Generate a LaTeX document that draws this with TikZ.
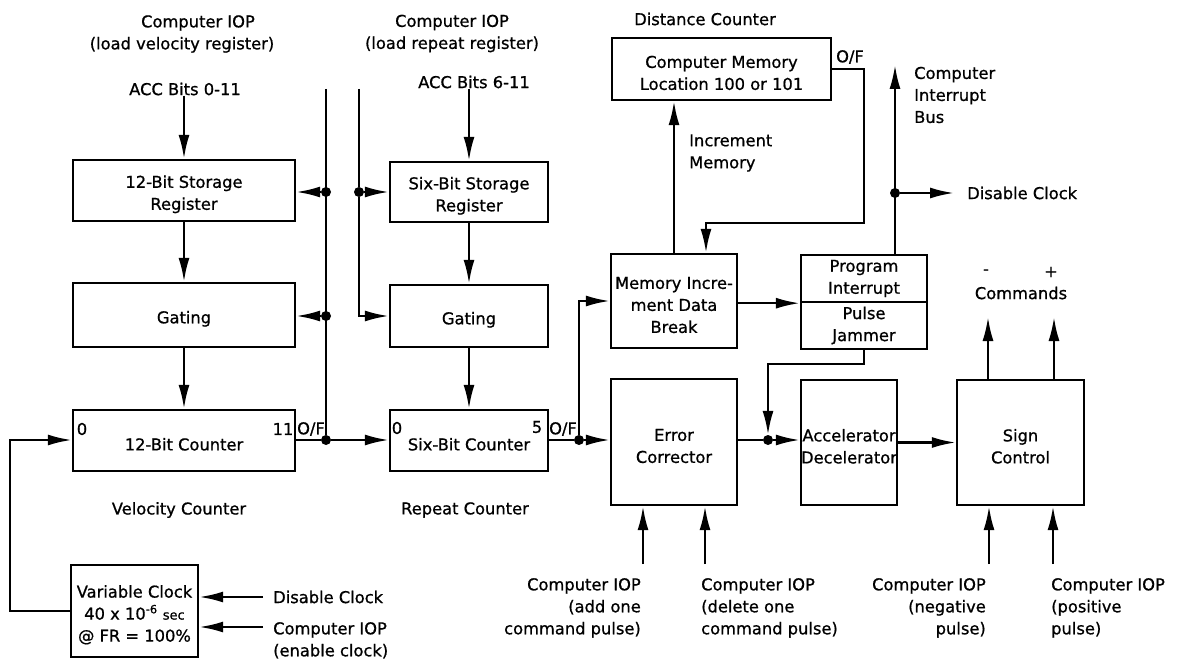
\documentclass[tikz,border=0pt]{standalone}
\usepackage{fontspec}
\setmainfont{DejaVu Sans}[UprightFeatures={FakeBold=0.8}]
\usetikzlibrary{arrows.meta}
\newcommand\toprule{\rule{0pt}{20pt}}

\begin{document}
\begin{tikzpicture}[x=1pt,y=-1pt,
  every node/.style={font=\fontsize{16.3}{22}\selectfont, inner sep=0pt},
  blk/.style={draw, line width=2.4pt, align=center, fill=white},
  lbl/.style={align=center},
  wire/.style={line width=2.4pt},
  arr/.style={wire, -{Latex[length=24pt,width=11pt]}},
  jdot/.style={circle, fill=black, minimum size=10pt, inner sep=0pt},
]
\useasboundingbox (0,0) rectangle (1178,660);

% ---- blocks (first line raised by a strut so the text sits a little low) ----
\node[blk, minimum width=222, minimum height=61] (sr12) at (184,190.5) {\toprule 12-Bit Storage\\Register};
\node[blk, minimum width=222, minimum height=64] (gt12) at (184,315) {\toprule Gating};
\node[blk, minimum width=222, minimum height=61] (ct12) at (184,440.5) {\toprule 12-Bit Counter};
\node[blk, minimum width=158, minimum height=60] (sr6) at (469,192) {\toprule Six-Bit Storage\\Register};
\node[blk, minimum width=158, minimum height=62] (gt6) at (469,316) {\toprule Gating};
\node[blk, minimum width=158, minimum height=61] (ct6) at (469,440.5) {\toprule Six-Bit Counter};
\node[blk, minimum width=219, minimum height=62] (mem) at (721.5,69) {\toprule Computer Memory\\Location 100 or 101};
\node[blk, minimum width=126, minimum height=94] (midb) at (674,301) {\toprule Memory Incre-\\ment Data\\Break};
\node[blk, minimum width=126, minimum height=47] (pi) at (864,278.5) {Program\\Interrupt};
\node[blk, minimum width=126, minimum height=47] (pj) at (864,325.5) {Pulse\\Jammer};
\node[blk, minimum width=126, minimum height=126] (ec) at (674,442) {\toprule Error\\Corrector};
\node[blk, minimum width=96, minimum height=125] (acc) at (849,442.5) {\toprule Accelerator\\Decelerator};
\node[blk, minimum width=127, minimum height=125] (sgn) at (1020.5,442.5) {\toprule Sign\\Control};
\node[blk, minimum width=127, minimum height=92] (clk) at (134.5,611)
  {\toprule Variable Clock\\40 x 10\textsuperscript{-6} {\fontsize{13}{22}\selectfont sec}\\@ FR = 100\%};

% ---- free labels ----
\node[lbl] (iop1) at (182,34) {\hspace*{32pt}Computer IOP\\(load velocity register)};
\node[lbl] (iop2) at (452,33.5) {Computer IOP\\(load repeat register)};
\node[lbl] (acc12) at (185,89) {ACC Bits 0-11};
\node[lbl] (acc6) at (474,82) {ACC Bits 6-11};
\node[lbl] (dist) at (705,19) {Distance Counter};
\node[lbl] (vel) at (179,510) {Velocity Counter};
\node[lbl] (rep) at (465,510) {Repeat Counter};
\node[lbl, anchor=west, align=left] (incl) at (689,153) {Increment\\Memory};
\node[lbl] (ofm) at (850,57) {O/F};
\node[lbl, anchor=west, align=left] (cib) at (914,95) {Computer\\Interrupt\\Bus};
\node[lbl, anchor=west] (dclk) at (967,193) {Disable Clock};
\node[lbl] (cmd) at (1021,293) {Commands};
\node[lbl] (minus) at (986,272) {-};
\node[lbl] (plus) at (1051,272) {+};

% counter stage labels
\node (c12z) at (82,429) {0};
\node (c12e) at (283,429) {11};
\node (c12of) at (311,429) {O/F};
\node (c6z) at (397,428) {0};
\node (c6f) at (537,427) {5};
\node (c6of) at (563,429) {O/F};

% inputs at the bottom
\node[lbl, anchor=north east, align=right] (l1) at (641,578) {Computer IOP\\(add one\\command pulse)};
\node[lbl, anchor=north west, align=left] (l2) at (701,578) {Computer IOP\\(delete one\\command pulse)};
\node[lbl, anchor=north east, align=right] (l3) at (986,578) {Computer IOP\\(negative\\pulse)};
\node[lbl, anchor=north west, align=left] (l4) at (1051,578) {Computer IOP\\(positive\\pulse)};

% clock inputs
\node[lbl, anchor=west] (dis) at (273,597) {Disable Clock};
\node[lbl, anchor=north west, align=left] (en) at (273,622) {Computer IOP\\(enable clock)};

% ---- junction dots ----
\node[jdot] (d1) at (326,192) {};
\node[jdot] (d2) at (326,316) {};
\node[jdot] (d3) at (326,440) {};
\node[jdot] (d4) at (359,192) {};
\node[jdot] (d5) at (579,440) {};
\node[jdot] (d6) at (895,193) {};
\node[jdot] (d7) at (768,440) {};

% ---- free wire ends ----
\coordinate (b1top) at (326,89);
\coordinate (b2top) at (359,89);
\coordinate (ibus) at (895,65);
\coordinate (ofc) at (864,223);
\coordinate (cmdm) at (988,317);
\coordinate (cmdp) at (1054,317);
\coordinate (in1) at (643,564);
\coordinate (in2) at (705,564);
\coordinate (in3) at (989,564);
\coordinate (in4) at (1053,564);
\coordinate (enA) at (263,627);
\coordinate (lp) at (10,440);

% ---- connectors ----
% register loading
\draw[arr] (acc12.south -| sr12.north) -- (sr12.north);
\draw[arr] (sr6.north |- acc6.south) -- (sr6.north);
\draw[arr] (sr12) -- (gt12);
\draw[arr] (gt12) -- (ct12);
\draw[arr] (sr6) -- (gt6);
\draw[arr] (gt6) -- (ct6);

% IOP control buses
\draw[wire] (b1top) -- (d3);
\draw[arr] (d1) -- (d1 -| sr12.east);
\draw[arr] (d2) -- (d2 -| gt12.east);
\draw[arr] (d4) -- (d4 -| sr6.west);
\draw[wire] (b2top) -- (d4);
\draw[arr] (d4) |- (gt6.west);

% counter chain
\draw[wire] (ct12.east |- d3) -- (d3);
\draw[arr] (d3) -- (d3 -| ct6.west);
\draw[wire] (ct6.east |- d5) -- (d5);
\draw[arr] (d5) -- (d5 -| ec.west);
\draw[arr] (d5) |- (midb.west);
\draw[arr] (midb.east |- pi.south west) -- (pi.south west);
\draw[wire] (ec.east |- d7) -- (d7);
\draw[arr] (d7) -- (d7 -| acc.west);
\draw[arr] (pj.south) -- ++(0,14) -| (d7.north);
\draw[arr] (acc.east) -- (sgn.west);

% distance counter
\draw[arr] (midb.north) -- (midb.north |- mem.south);
\draw[arr] (mem.east) -| (ofc) -| ([xshift=32pt]midb.north);

% interrupt bus
\draw[arr] (pi.north -| ibus) -- (ibus);
\draw[arr] (d6) -- ([xshift=-13pt]dclk.west);

% commands out
\draw[arr] (sgn.north -| cmdm) -- (cmdm);
\draw[arr] (sgn.north -| cmdp) -- (cmdp);

% pulse inputs
\draw[arr] (in1) -- (in1 |- ec.south);
\draw[arr] (in2) -- (in2 |- ec.south);
\draw[arr] (in3) -- (in3 |- sgn.south);
\draw[arr] (in4) -- (in4 |- sgn.south);

% clock
\draw[arr, shorten <=10pt] (dis.west) -- (dis.west -| clk.east);
\draw[arr] (enA) -- (enA -| clk.east);
\draw[arr] (clk.west) -| (lp) -- (lp -| ct12.west);
\end{tikzpicture}
\end{document}
